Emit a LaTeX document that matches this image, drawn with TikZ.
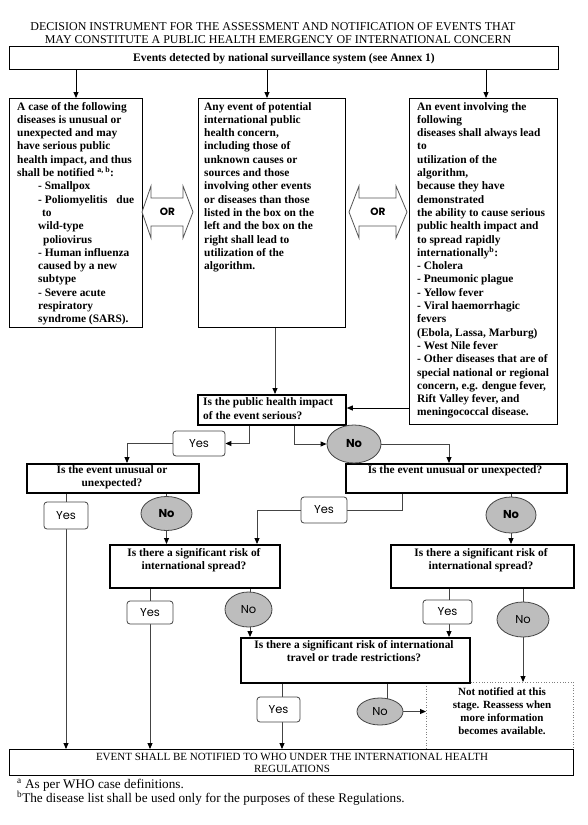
\documentclass[tikz,border=0pt]{standalone}
\usepackage{fontspec}
\setmainfont{Liberation Serif}
\newfontfamily\gothic{Poppins}
\usetikzlibrary{arrows.meta,shapes.geometric}
\pgfdeclarelayer{bg}
\pgfsetlayers{bg,main}
\definecolor{linegray}{HTML}{444444}
\definecolor{nofill}{HTML}{BDBDBD}
\definecolor{orgray}{HTML}{555555}
\begin{document}
\begin{tikzpicture}[x=1pt,y=-1pt,
  box/.style={draw=black, line width=1.4pt, inner sep=0pt, anchor=north west},
  qbox/.style={draw=black, line width=1.8pt, inner sep=0pt, anchor=north west, fill=white},
  btext/.style={font=\fontsize{11.4}{13.3}\selectfont\bfseries, inner sep=0pt, align=left, anchor=base west},
  qtext/.style={font=\fontsize{11.4}{13.3}\selectfont\bfseries, inner sep=0pt, align=center, anchor=base},
  yesbox/.style={draw=linegray, line width=0.8pt, rounded corners=3pt, fill=white, inner sep=0pt, font=\gothic\fontsize{11.5}{11.5}\selectfont},
  nobox/.style={ellipse, draw=linegray, line width=0.8pt, fill=nofill, inner sep=0pt, font=\gothic\fontsize{11.5}{11.5}\selectfont},
  conn/.style={draw=linegray, line width=0.9pt},
  arr/.style={conn, -{Triangle[length=6pt,width=5pt,color=black]}},
  orshape/.style={draw=orgray, line width=0.8pt, fill=white},
  ortext/.style={font=\gothic\bfseries\fontsize{10.5}{10.5}\selectfont, inner sep=0pt},
  fnote/.style={anchor=base west, inner sep=0pt, font=\fontsize{13.2}{14}\selectfont}
]
\useasboundingbox (0,0) rectangle (587,825);
\begin{pgfonlayer}{bg}
\fill[white] (0,0) rectangle (587,825);
\end{pgfonlayer}

% title
\node[anchor=base, inner sep=0pt, font=\fontsize{12}{13}\selectfont] (title1) at (273,30) {DECISION INSTRUMENT FOR THE ASSESSMENT AND NOTIFICATION OF EVENTS THAT};
\node[anchor=base, inner sep=0pt, font=\fontsize{12}{13}\selectfont] (title2) at (278,43.5) {MAY CONSTITUTE A PUBLIC HEALTH EMERGENCY OF INTERNATIONAL CONCERN};

% top box
\node[box, minimum width=549pt, minimum height=23pt] (top) at (9,46) {};
\node[qtext, font=\fontsize{11.5}{13}\selectfont\bfseries] (topt) at (284,61) {Events detected by national surveillance system (see Annex 1)};

% three main boxes
\node[box, minimum width=133pt, minimum height=229pt] (lbox) at (9,98) {};
\node[box, minimum width=147pt, minimum height=229pt] (mbox) at (198,98) {};
\node[box, minimum width=148pt, minimum height=326pt] (rbox) at (409,98) {};

% (multi-line nodes: base anchor = baseline of the last line)
\node[btext] (lboxt) at (17,322.8) {A case of the following\\
diseases is unusual or\\
unexpected and may\\
have serious public\\
health impact, and thus\\
shall be notified \textsuperscript{a, b}:\\
\hspace*{21pt}- Smallpox\\
\makebox[117pt][l]{\hspace*{21pt}- Poliomyelitis\hfill due}\\
\hspace*{25pt}to\\
\hspace*{21pt}wild-type\\
\hspace*{26pt}poliovirus\\
\hspace*{21pt}- Human influenza\\
\hspace*{21pt}caused by a new\\
\hspace*{21pt}subtype\\
\hspace*{21pt}- Severe acute\\
\hspace*{21pt}respiratory\\
\hspace*{21pt}syndrome (SARS).};

\node[btext] (mboxt) at (204,269.6) {Any event of potential\\
international public\\
health concern,\\
including those of\\
unknown causes or\\
sources and those\\
involving other events\\
or diseases than those\\
listed in the box on the\\
left and the box on the\\
right shall lead to\\
utilization of the\\
algorithm.};

\node[btext] (rboxt) at (417,415.9) {An event involving the\\
following\\
diseases shall always lead\\
to\\
utilization of the\\
algorithm,\\
because they have\\
demonstrated\\
the ability to cause serious\\
public health impact and\\
to spread rapidly\\
internationally\textsuperscript{b}:\\
- Cholera\\
- Pneumonic plague\\
- Yellow fever\\
- Viral haemorrhagic\\
fevers\\
(Ebola, Lassa, Marburg)\\
- West Nile fever\\
- Other diseases that are of\\
special national or regional\\
concern, e.g. dengue fever,\\
Rift Valley fever, and\\
meningococcal disease.};

% OR arrows
\draw[orshape] (142,212) -- (151,186) -- (151,198) -- (183,198) -- (183,186) -- (193,212)
  -- (183,238) -- (183,226) -- (151,226) -- (151,238) -- cycle;
\node[ortext] (or1) at (167.5,212) {OR};
\draw[orshape] (349,212) -- (359,186) -- (359,198) -- (396,198) -- (396,186) -- (407,212)
  -- (396,238) -- (396,226) -- (359,226) -- (359,238) -- cycle;
\node[ortext] (or2) at (378,212) {OR};

% question boxes
\node[qbox, minimum width=148pt, minimum height=30pt] (q1) at (197,394) {};
\node[btext, font=\fontsize{11.4}{13.5}\selectfont\bfseries] (q1t) at (203,419) {Is the public health impact\\ of the event serious?};

\node[qbox, minimum width=172pt, minimum height=29pt] (q2l) at (26,463) {};
\node[qtext] (q2lt) at (112,486.3) {Is the event unusual or\\ unexpected?};
\node[qbox, minimum width=221pt, minimum height=29pt] (q2r) at (345,463) {};
\node[qtext] (q2rt) at (455,473) {Is the event unusual or unexpected?};

\node[qbox, minimum width=170pt, minimum height=43pt] (q3l) at (109,544) {};
\node[qtext] (q3lt) at (194,569.3) {Is there a significant risk of\\ international spread?};
\node[qbox, minimum width=183pt, minimum height=43pt] (q3r) at (390,544) {};
\node[qtext] (q3rt) at (481,569.3) {Is there a significant risk of\\ international spread?};

\node[draw=gray, dotted, line width=0.7pt, minimum width=147pt, minimum height=67pt, anchor=north west, inner sep=0pt] (nn) at (426,682) {};
\node[qtext, font=\fontsize{11}{13}\selectfont\bfseries] (nnt) at (502,734) {Not notified at this\\ stage. Reassess when\\ more information\\ becomes available.};

\node[qbox, minimum width=229pt, minimum height=45pt] (q4) at (240,637) {};
\node[qtext] (q4t) at (354,661.3) {Is there a significant risk of international\\ travel or trade restrictions?};

\node[box, fill=white, minimum width=564pt, minimum height=26pt] (bot) at (9,749) {};
\node[qtext, font=\fontsize{11}{12}\selectfont\mdseries] (bott) at (292,772.5) {EVENT SHALL BE NOTIFIED TO WHO UNDER THE INTERNATIONAL HEALTH\\ REGULATIONS};

% footnotes
\node[fnote] (fn1) at (17,788) {\textsuperscript{a} As per WHO case definitions.};
\node[fnote] (fn2) at (17,802) {\textsuperscript{b}The disease list shall be used only for the purposes of these Regulations.};

% yes / no
\node[yesbox, minimum width=52pt, minimum height=25pt] (yes1) at (199,443.5) {Yes};
\node[nobox, minimum width=54pt, minimum height=38pt] (no1) at (354,444) {\bfseries No};
\node[yesbox, minimum width=44pt, minimum height=27pt] (yes2) at (66,515.5) {Yes};
\node[nobox, minimum width=51pt, minimum height=34pt] (no2) at (166.5,513.5) {\bfseries No};
\node[yesbox, minimum width=46pt, minimum height=26pt] (yesr) at (324,510) {Yes};
\node[nobox, minimum width=50pt, minimum height=36pt] (nor) at (511,515) {\bfseries No};
\node[yesbox, minimum width=46pt, minimum height=23pt] (yes3l) at (150,612.5) {Yes};
\node[nobox, minimum width=47pt, minimum height=35pt] (no3l) at (248.5,609.5) {No};
\node[yesbox, minimum width=49pt, minimum height=24pt] (yes3r) at (447.5,612) {Yes};
\node[nobox, minimum width=52pt, minimum height=35pt] (no3r) at (523,619.5) {No};
\node[yesbox, minimum width=43pt, minimum height=25pt] (yes4) at (278.5,709.5) {Yes};
\node[nobox, minimum width=46pt, minimum height=27pt] (no4) at (380,711.5) {No};

% connectors
\begin{pgfonlayer}{bg}
\draw[arr, draw=black] (top.south -| 76,0) -- (lbox.north -| 76,0);
\draw[arr, draw=black] (top.south -| 267,0) -- (mbox.north -| 267,0);
\draw[arr, draw=black] (top.south -| 486,0) -- (rbox.north -| 486,0);
\draw[arr] (mbox.south -| 275,0) -- (q1.north -| 275,0);
\draw[arr, draw=black] (rbox.west |- 0,408) -- (q1.east |- 0,408);
\draw[arr] (q1.south -| 249,0) |- (yes1.east);
\draw[arr] (q1.south -| 294,0) |- (no1.west);
\draw[arr] (yes1.west) -| (q2l.north -| 127,0);
\draw[arr] (no1.east) -| (q2r.north -| 449,0);
\draw[conn] (q2l.south -| yes2.north) -- (yes2.north);
\draw[arr] (yes2.south) -- (bot.north -| yes2.south);
\draw[conn] (q2l.south -| no2.north) -- (no2.north);
\draw[arr] (no2.south) -- (q3l.north -| no2.south);
\draw[conn] (q2r.south -| 402,0) |- (yesr.east);
\draw[arr] (yesr.west) -| (q3l.north -| 257,0);
\draw[conn] (q2r.south -| nor.north) -- (nor.north);
\draw[arr] (nor.south) -- (q3r.north -| nor.south);
\draw[conn] (q3l.south -| yes3l.north) -- (yes3l.north);
\draw[arr] (yes3l.south) -- (bot.north -| yes3l.south);
\draw[conn] (q3l.south -| 250,0) -- (no3l.center -| 250,0);
\draw[arr] (no3l.south -| 250,0) -- (q4.north -| 250,0);
\draw[conn] (q3r.south -| 449,0) -- (yes3r.center -| 449,0);
\draw[arr] (yes3r.south -| 449,0) -- (q4.north -| 449,0);
\draw[conn] (q3r.south -| no3r.north) -- (no3r.north);
\draw[arr] (no3r.south) -- (nn.north -| no3r.south);
\draw[conn] (q4.south -| 282,0) -- (yes4.center -| 282,0);
\draw[arr] (yes4.south -| 282,0) -- (bot.north -| 282,0);
\draw[conn] (q4.south -| 387,0) -- (no4.center -| 387,0);
\draw[arr] (no4.east) -- (nn.west |- no4.east);
\end{pgfonlayer}
\end{tikzpicture}
\end{document}
